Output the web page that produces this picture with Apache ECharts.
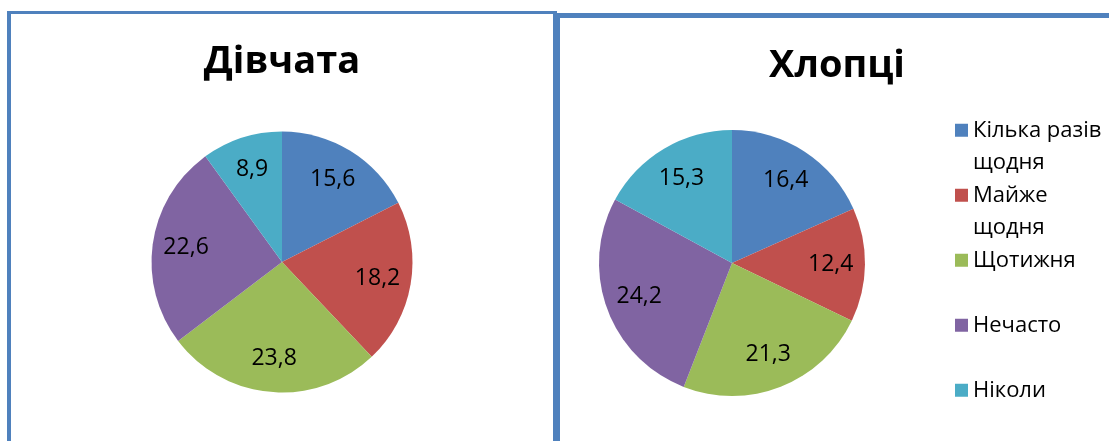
<!DOCTYPE html>
<html>
<head>
<meta charset="utf-8">
<script src="https://cdn.jsdelivr.net/npm/echarts@6/dist/echarts.min.js"></script>
<style>
html,body{margin:0;padding:0;background:#fff;}
#chart{width:1109px;height:441px;}
</style>
</head>
<body>
<div id="chart"></div>
<script>
const categories = ['Кілька разів щодня', 'Майже щодня', 'Щотижня', 'Нечасто', 'Ніколи'];
const legendLabels = ['Кілька разів\nщодня', 'Майже\nщодня', 'Щотижня', 'Нечасто', 'Ніколи'];
const girlsValues = [15.6, 18.2, 23.8, 22.6, 8.9];
const boysValues = [16.4, 12.4, 21.3, 24.2, 15.3];
const titles = ['Дівчата', 'Хлопці'];
const colors = ['#4F81BD', '#C0504D', '#9BBB59', '#8064A2', '#4BACC6'];

const FONT = '"Open Sans", "Noto Sans", sans-serif';
const BORDER = '#4F81BD';

function toData(values) {
  return categories.map((c, i) => ({ name: c, value: values[i] }));
}
function fmt(p) { return String(p.value).replace('.', ','); }

function pieSeries(values, center, r) {
  return [
    {
      type: 'pie', center: center, radius: r, startAngle: 90, clockwise: true,
      data: toData(values), label: { show: false }, labelLine: { show: false },
      itemStyle: { borderWidth: 0 }, emphasis: { disabled: true }, silent: true
    },
    {
      type: 'pie', center: center, radius: [r * 0.44, r], startAngle: 90, clockwise: true,
      data: toData(values), labelLine: { show: false },
      itemStyle: { color: 'rgba(0,0,0,0)', borderWidth: 0 },
      label: { show: true, position: 'inside', formatter: fmt, color: '#000', fontFamily: FONT, fontSize: 23 },
      emphasis: { disabled: true }, silent: true
    }
  ];
}

const chart = echarts.init(document.getElementById('chart'), null, { renderer: 'canvas' });
chart.setOption({
  animation: false,
  color: colors,
  legend: {
    orient: 'vertical', left: 950, top: 76.5, height: 600, padding: 5,
    itemGap: -32.5, itemWidth: 13, itemHeight: 13, icon: 'rect',
    data: categories,
    formatter: function (name) {
      const lbl = legendLabels[categories.indexOf(name)];
      return '\u00a0\n' + lbl + (lbl.indexOf('\n') < 0 ? '\n\u00a0' : '');
    },
    textStyle: { fontFamily: FONT, fontSize: 22, color: '#000', lineHeight: 32.5, padding: [0, 0, 0, 0] },
    selectedMode: false
  },
  graphic: [
    { type: 'rect', shape: { x: 7, y: 11, width: 4, height: 440 }, style: { fill: BORDER } },
    { type: 'rect', shape: { x: 7, y: 11, width: 549, height: 3 }, style: { fill: BORDER } },
    { type: 'rect', shape: { x: 553, y: 11, width: 4, height: 440 }, style: { fill: BORDER } },
    { type: 'rect', shape: { x: 556, y: 13, width: 560, height: 5 }, style: { fill: BORDER } },
    { type: 'rect', shape: { x: 556, y: 13, width: 4, height: 440 }, style: { fill: BORDER } },
    { type: 'text', x: 282, y: 62, style: { text: titles[0], font: 'bold 38px ' + FONT, fill: '#000', align: 'center', verticalAlign: 'middle' } },
    { type: 'text', x: 837, y: 66, style: { text: titles[1], font: 'bold 38px ' + FONT, fill: '#000', align: 'center', verticalAlign: 'middle' } }
  ],
  series: [].concat(pieSeries(girlsValues, [282, 262], 130.5), pieSeries(boysValues, [732, 263], 133))
});
</script>
</body>
</html>
